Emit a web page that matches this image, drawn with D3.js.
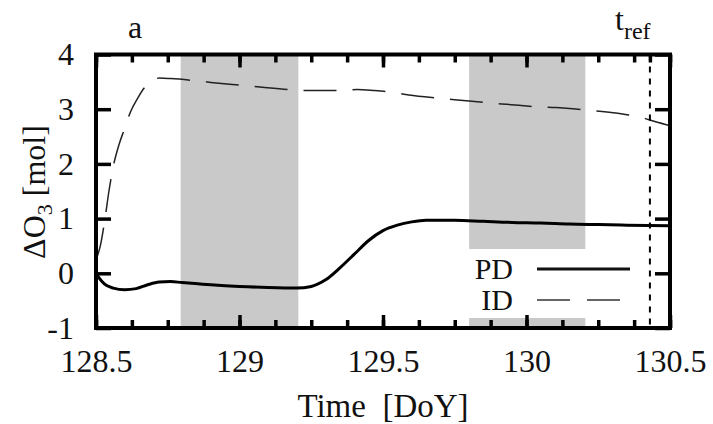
<!DOCTYPE html>
<html lang="en">
<head>
<meta charset="UTF-8">
<title>Delta O3</title>
<script src="https://cdn.jsdelivr.net/npm/d3@7"></script>
<style>
  body { margin: 0; background: #fff; }
  svg { display: block; }
  svg text { font-family: "Liberation Serif", "Times New Roman", Times, "DejaVu Serif", "Noto Serif", serif; }
  .tick line { stroke: #000; stroke-width: 3.5; }
  .tick text { font-size: 32px; fill: #111; }
</style>
</head>
<body>
<div id="chart"></div>
<script>
// data
const pdTime = [128.5, 128.51, 128.53, 128.56, 128.6, 128.64, 128.68, 128.72, 128.76, 128.8,
  128.9, 129.0, 129.1, 129.2, 129.25, 129.3, 129.35, 129.4, 129.45, 129.5, 129.55, 129.6,
  129.65, 129.75, 129.85, 129.95, 130.05, 130.15, 130.25, 130.35, 130.5]
const pdValue = [0.0, -0.08, -0.2, -0.27, -0.3, -0.28, -0.21, -0.16, -0.15, -0.17,
  -0.21, -0.24, -0.26, -0.27, -0.24, -0.12, 0.1, 0.35, 0.6, 0.78, 0.88, 0.94,
  0.97, 0.97, 0.95, 0.93, 0.92, 0.9, 0.89, 0.88, 0.87]

const idTime = [128.5, 128.515, 128.53, 128.545, 128.56, 128.58, 128.6, 128.62, 128.645, 128.67,
  128.7, 128.72, 128.76, 128.83, 128.9, 129.0, 129.08, 129.17, 129.25, 129.33, 129.41, 129.47,
  129.53, 129.59, 129.7, 129.76, 129.88, 129.93, 130.05, 130.1, 130.22, 130.28, 130.35, 130.4,
  130.45, 130.5]
const idValue = [0.25, 0.5, 0.95, 1.5, 1.95, 2.35, 2.65, 2.95, 3.2, 3.4,
  3.53, 3.57, 3.56, 3.53, 3.49, 3.44, 3.4, 3.36, 3.34, 3.34, 3.36, 3.34,
  3.31, 3.26, 3.2, 3.17, 3.11, 3.09, 3.04, 3.03, 2.98, 2.95, 2.9, 2.85,
  2.77, 2.7]

const nightStart = [128.795, 129.8]
const nightEnd = [129.205, 130.205]
const tRef = 130.43

const xMajor = [128.5, 129, 129.5, 130, 130.5]
const xLabels = ["128.5", "129", "129.5", "130", "130.5"]
const xMinor = d3.range(0, 17).map(i => 128.5 + i * 0.125)
const yMajor = [-1, 0, 1, 2, 3, 4]
const yLabels = ["-1", "0", "1", "2", "3", "4"]

const width = 713
const height = 424
const mLeft = 96, mRight = 670, mTop = 54.5, mBottom = 328

const svg = d3.select("#chart").append("svg")
  .attr("width", width)
  .attr("height", height)

const x = d3.scaleLinear().domain([128.5, 130.5]).range([mLeft, mRight])
const y = d3.scaleLinear().domain([-1, 4]).range([mBottom, mTop])

// night shading
svg.append("g").selectAll("rect")
  .data(nightStart)
  .enter()
  .append("rect")
  .attr("x", d => x(d))
  .attr("y", mTop)
  .attr("width", (d, i) => x(nightEnd[i]) - x(d))
  .attr("height", mBottom - mTop)
  .attr("fill", "#c9c9c9")

const line = d3.line()
  .x(d => x(d[0]))
  .y(d => y(d[1]))
  .curve(d3.curveMonotoneX)

svg.append("path")
  .datum(idTime.map((t, i) => [t, idValue[i]]))
  .attr("d", line)
  .attr("fill", "none")
  .attr("stroke", "#222")
  .attr("stroke-width", 1.5)
  .attr("stroke-dasharray", "33,16")

svg.append("path")
  .datum(pdTime.map((t, i) => [t, pdValue[i]]))
  .attr("d", line)
  .attr("fill", "none")
  .attr("stroke", "#000")
  .attr("stroke-width", 3)

// legend (opaque box)
svg.append("rect")
  .attr("x", 455)
  .attr("y", 249)
  .attr("width", 212)
  .attr("height", 69)
  .attr("fill", "#fff")

const legend = [
  { name: "PD", ly: 269, dash: null, color: "#111", w: 3 },
  { name: "ID", ly: 300, dash: "33,17", color: "#666", w: 2 }
]
legend.forEach(l => {
  svg.append("text")
    .attr("x", 513)
    .attr("y", l.ly + 10)
    .attr("text-anchor", "end")
    .style("font-size", "30px")
    .attr("fill", "#111")
    .text(l.name)
  svg.append("line")
    .attr("x1", 537).attr("x2", l.dash ? 620 : 630)
    .attr("y1", l.ly).attr("y2", l.ly)
    .attr("stroke", l.color)
    .attr("stroke-width", l.w)
    .attr("stroke-dasharray", l.dash)
})

// t_ref line
svg.append("line")
  .attr("x1", x(tRef)).attr("x2", x(tRef))
  .attr("y1", mTop).attr("y2", mBottom)
  .attr("stroke", "#000")
  .attr("stroke-width", 2)
  .attr("stroke-dasharray", "6,6")

// axes
svg.append("g")
  .attr("transform", `translate(0,${mBottom})`)
  .call(d3.axisBottom(x).tickValues(xMajor).tickSize(-13).tickPadding(21)
    .tickFormat((d, i) => xLabels[i]))
svg.append("g")
  .attr("transform", `translate(0,${mBottom})`)
  .call(d3.axisBottom(x).tickValues(xMinor).tickSize(-8).tickFormat(""))
svg.append("g")
  .attr("transform", `translate(0,${mTop})`)
  .call(d3.axisTop(x).tickValues(xMajor).tickSize(-13).tickFormat(""))
svg.append("g")
  .attr("transform", `translate(0,${mTop})`)
  .call(d3.axisTop(x).tickValues(xMinor.concat([tRef])).tickSize(-8).tickFormat(""))
svg.append("g")
  .attr("transform", `translate(${mLeft},0)`)
  .call(d3.axisLeft(y).tickValues(yMajor).tickSize(-15).tickPadding(22)
    .tickFormat((d, i) => yLabels[i]))
svg.append("g")
  .attr("transform", `translate(${mRight},0)`)
  .call(d3.axisRight(y).tickValues(yMajor).tickSize(-15).tickFormat(""))

svg.selectAll(".domain").remove()
svg.selectAll("g").attr("font-family", null).attr("font-size", null)

// frame
svg.append("rect")
  .attr("x", mLeft).attr("y", mTop)
  .attr("width", mRight - mLeft).attr("height", mBottom - mTop)
  .attr("fill", "none")
  .attr("stroke", "#000")
  .attr("stroke-width", 4)

// labels
svg.append("text")
  .attr("x", 383).attr("y", 417)
  .attr("text-anchor", "middle")
  .style("font-size", "33px")
  .attr("fill", "#111")
  .attr("xml:space", "preserve")
  .text("Time  [DoY]")

const yl = svg.append("text")
  .attr("transform", "translate(45,192) rotate(-90)")
  .attr("text-anchor", "middle")
  .style("font-size", "32px")
  .attr("fill", "#111")
yl.append("tspan").text("ΔO")
yl.append("tspan").attr("dy", 7).style("font-size", "22px").text("3")
yl.append("tspan").attr("dy", -7).text(" [mol]")

svg.append("text")
  .attr("x", 135).attr("y", 38)
  .attr("text-anchor", "middle")
  .style("font-size", "32px")
  .attr("fill", "#111")
  .text("a")

const tr = svg.append("text")
  .attr("x", 615).attr("y", 30)
  .style("font-size", "32px")
  .attr("fill", "#111")
tr.append("tspan").text("t")
tr.append("tspan").attr("dy", 9).style("font-size", "24px").text("ref")
</script>
</body>
</html>
